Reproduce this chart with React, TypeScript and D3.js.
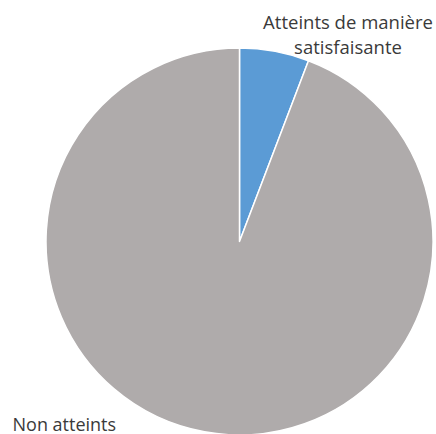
import React from "react";
import * as d3 from "d3";

const categories = ["Atteints de manière satisfaisante", "Non atteints"];
const values = [5.8, 94.2];
const colors = ["#5B9BD5", "#AFABAB"];

const W = 436;
const H = 434;
const cx = 239.5;
const cy = 241.5;
const R = 193.5;

export default function App() {
  const pie = d3.pie<number>().sort(null).value((d) => d);
  const arcs = pie(values);
  const arc = d3.arc<d3.PieArcDatum<number>>().innerRadius(0).outerRadius(R);
  const font = "'Open Sans', sans-serif";
  return (
    <svg
      width={W}
      height={H}
      style={{ position: "absolute", left: 0, top: 0, background: "#fff" }}
    >
      <g transform={`translate(${cx},${cy})`}>
        {arcs.map((a, i) => (
          <path
            key={categories[i]}
            d={arc(a) || ""}
            fill={colors[i]}
            stroke="#ffffff"
            strokeWidth={1.5}
            strokeLinejoin="round"
          />
        ))}
      </g>
      <text
        fontFamily={font}
        fontSize={18.5}
        fill="#3a3a3a"
        textAnchor="middle"
      >
        <tspan x={348} y={29}>Atteints de manière</tspan>
        <tspan x={348} y={54}>satisfaisante</tspan>
      </text>
      <text x={12.5} y={430.5} fontFamily={font} fontSize={18} fill="#3a3a3a">
        {categories[1]}
      </text>
    </svg>
  );
}
